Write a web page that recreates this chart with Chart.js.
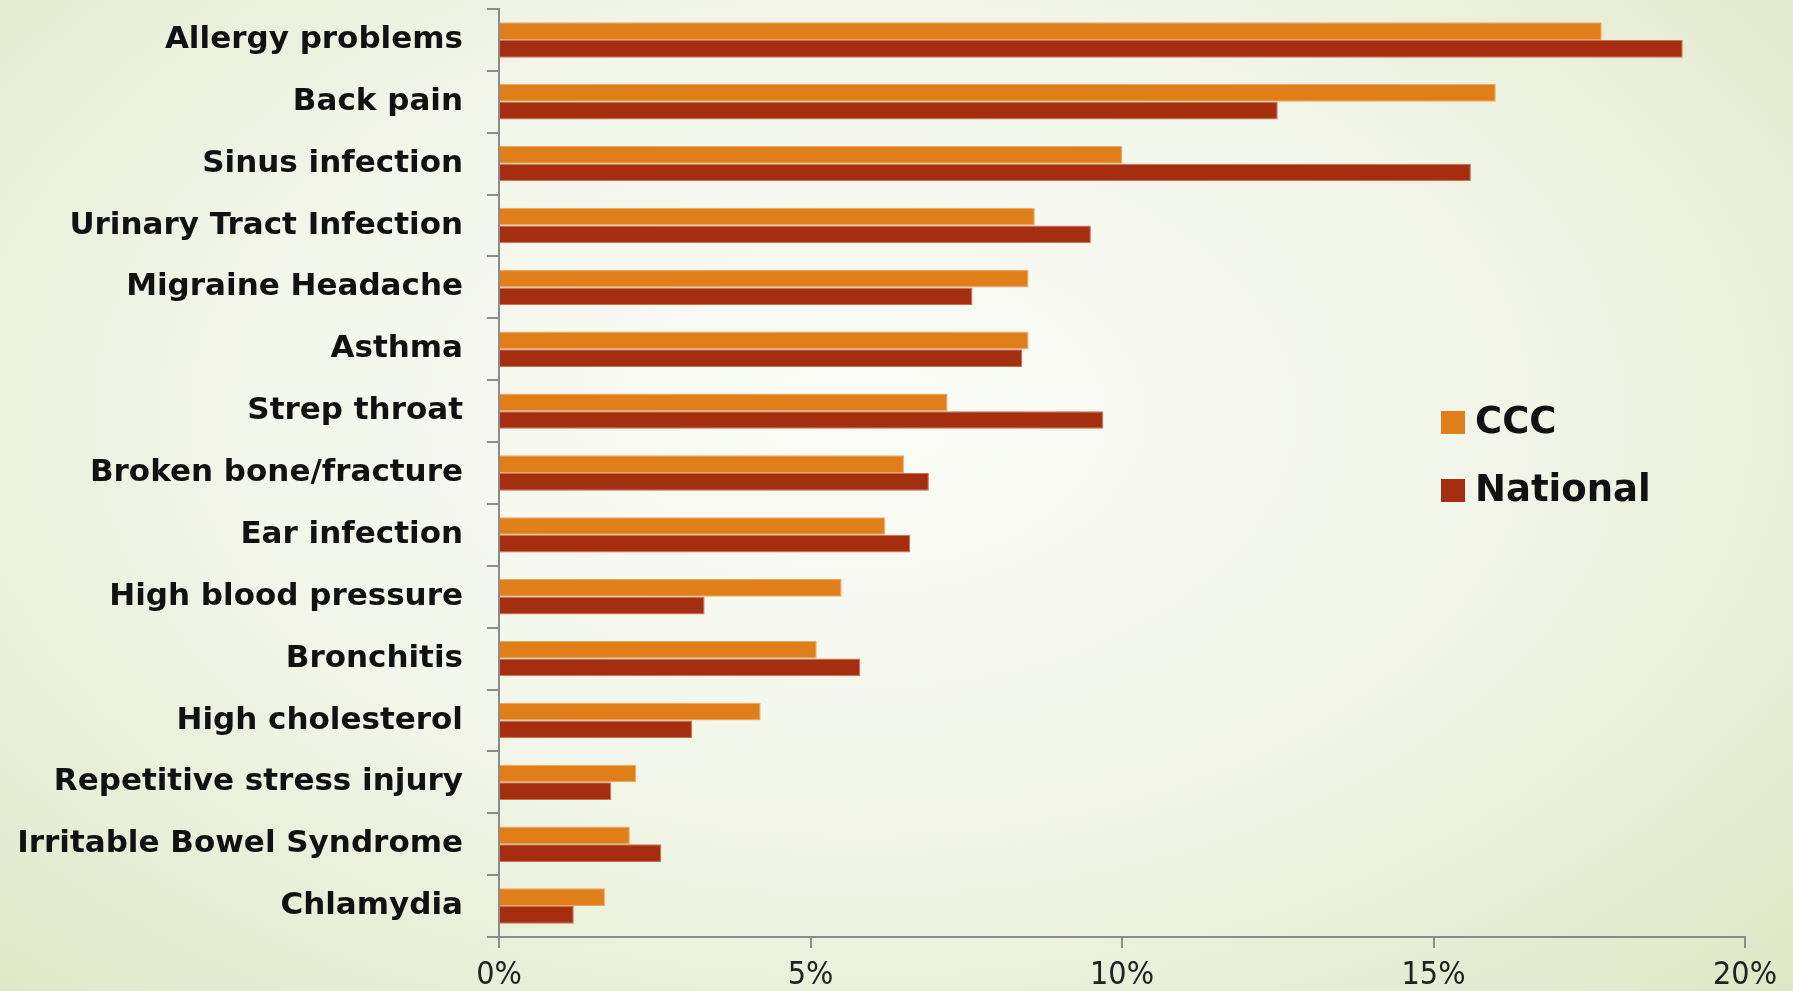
<!DOCTYPE html>
<html>
<head>
<meta charset="utf-8">
<script src="https://cdn.jsdelivr.net/npm/chart.js@4"></script>
<style>
  html, body {
    margin: 0;
    padding: 0;
    width: 1793px;
    height: 991px;
    overflow: hidden;
  }
  body {
    background: radial-gradient(ellipse 75% 85% at 48% 42%, #fbfcf8 0%, #f3f6ea 45%, #e6ecd3 80%, #dde6c2 100%);
  }
  #wrap {
    position: absolute;
    left: 0;
    top: 0;
    width: 1793px;
    height: 991px;
  }
</style>
</head>
<body>
<div id="wrap"><canvas id="chart" width="1793" height="991"></canvas></div>
<script>
Chart.defaults.devicePixelRatio = 1;
Chart.defaults.responsive = false;
Chart.defaults.maintainAspectRatio = false;
Chart.defaults.animation = false;

const categories = [
  "Allergy problems",
  "Back pain",
  "Sinus infection",
  "Urinary Tract Infection",
  "Migraine Headache",
  "Asthma",
  "Strep throat",
  "Broken bone/fracture",
  "Ear infection",
  "High blood pressure",
  "Bronchitis",
  "High cholesterol",
  "Repetitive stress injury",
  "Irritable Bowel Syndrome",
  "Chlamydia",
];
const cccValues = [17.7, 16.0, 10.0, 8.6, 8.5, 8.5, 7.2, 6.5, 6.2, 5.5, 5.1, 4.2, 2.2, 2.1, 1.7];
const nationalValues = [19.0, 12.5, 15.6, 9.5, 7.6, 8.4, 9.7, 6.9, 6.6, 3.3, 5.8, 3.1, 1.8, 2.6, 1.2];
const seriesNames = ["CCC", "National"];
const xTicks = [0, 5, 10, 15, 20];

const colors = ["#e07f1a", "#a52d10"];
const axisColor = "#8c8c8c";

// legend drawn inside the plot, right side
const sideLegend = {
  id: "sideLegend",
  afterDraw(chart) {
    const ctx = chart.ctx;
    ctx.save();
    ctx.font = "bold 37px 'DejaVu Sans', sans-serif";
    ctx.textBaseline = "middle";
    ctx.textAlign = "left";
    seriesNames.forEach((name, i) => {
      const y = 422 + i * 68;
      ctx.fillStyle = colors[i];
      ctx.fillRect(1441, y - 11, 24, 23);
      ctx.fillStyle = "#111";
      ctx.fillText(name, 1475, y + 1);
    });
    ctx.restore();
  },
};

const ctx = document.getElementById("chart").getContext("2d");
new Chart(ctx, {
  type: "bar",
  data: {
    labels: categories,
    datasets: [
      {
        label: seriesNames[0],
        data: cccValues,
        backgroundColor: colors[0],
        borderColor: "#eba868",
        borderWidth: 1,
        categoryPercentage: 0.572,
        barPercentage: 1,
      },
      {
        label: seriesNames[1],
        data: nationalValues,
        backgroundColor: colors[1],
        borderColor: "#c8704f",
        borderWidth: 1,
        categoryPercentage: 0.572,
        barPercentage: 1,
      },
    ],
  },
  options: {
    indexAxis: "y",
    responsive: false,
    maintainAspectRatio: false,
    layout: { padding: { top: 9, right: 48, left: 0, bottom: 0 } },
    plugins: {
      legend: { display: false },
      tooltip: { enabled: false },
    },
    scales: {
      x: {
        min: 0,
        max: 20,
        afterBuildTicks: (scale) => {
          scale.ticks = xTicks.map((v) => ({ value: v }));
        },
        afterFit: (scale) => {
          scale.height = 54;
        },
        grid: {
          drawOnChartArea: false,
          color: axisColor,
          lineWidth: 2,
          tickLength: 11,
        },
        border: { color: axisColor, width: 2 },
        ticks: {
          color: "#222",
          padding: 8,
          maxRotation: 0,
          font: { family: "'Liberation Sans Narrow', 'DejaVu Sans Condensed', sans-serif", size: 32 },
          callback: (v) => v + "%",
        },
      },
      y: {
        afterFit: (scale) => {
          scale.width = 499;
          scale.paddingTop = 0;
          scale.paddingBottom = 0;
        },
        grid: {
          drawOnChartArea: false,
          color: axisColor,
          lineWidth: 2,
          tickLength: 12,
        },
        border: { color: axisColor, width: 2 },
        ticks: {
          color: "#111",
          padding: 24,
          autoSkip: false,
          font: { family: "'DejaVu Sans', sans-serif", size: 31, weight: "bold" },
        },
      },
    },
  },
  plugins: [sideLegend],
});
</script>
</body>
</html>
